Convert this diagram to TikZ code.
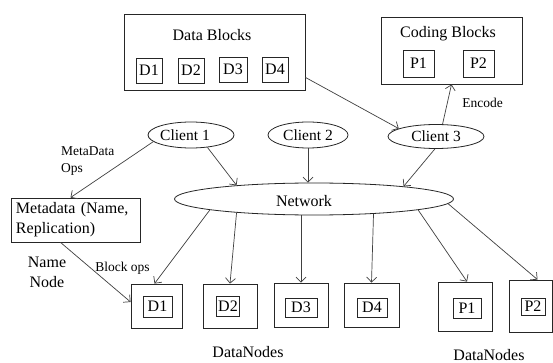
\documentclass[tikz,border=0pt]{standalone}
\usepackage{fontspec}
\setmainfont{Liberation Serif}
\usetikzlibrary{shapes.geometric,arrows.meta}
\begin{document}
\begin{tikzpicture}[x=1pt,y=-1pt,
  bx/.style={draw=black!85,line width=0.8pt,rectangle,inner sep=0pt,font=\fontsize{16}{19}\selectfont},
  el/.style={draw=black!85,line width=0.8pt,ellipse,inner sep=0pt,font=\fontsize{15.5}{19}\selectfont},
  lbl/.style={inner sep=0pt,font=\fontsize{16}{20}\selectfont,align=center},
  sml/.style={inner sep=0pt,font=\fontsize{13.5}{17}\selectfont},
  arr/.style={draw=black!75,line width=0.7pt,-{Straight Barb[length=5pt,width=10pt]}}
]
\useasboundingbox[fill=white] (0,0) rectangle (553,363);

% Data Blocks
\node[bx,minimum width=181pt,minimum height=76pt] (db) at (214.5,52) {};
\node[lbl] (dbt) at (212,35) {Data Blocks};
\node[bx,minimum width=26pt,minimum height=25pt] (bd1) at (149,70.5) {D1};
\node[bx,minimum width=26pt,minimum height=25pt] (bd2) at (191,70.5) {D2};
\node[bx,minimum width=28pt,minimum height=25pt] (bd3) at (233,69.5) {D3};
\node[bx,minimum width=26pt,minimum height=25pt] (bd4) at (275,69.5) {D4};

% Coding Blocks
\node[bx,minimum width=141pt,minimum height=67pt] (cb) at (451.5,50.5) {};
\node[lbl] (cbt) at (448,34) {Coding Blocks};
\node[bx,minimum width=31pt,minimum height=27pt] (bp1) at (418.5,63.5) {P1};
\node[bx,minimum width=31pt,minimum height=27pt] (bp2) at (478.5,63.5) {P2};

% Clients
\node[el,minimum width=86pt,minimum height=26pt] (c1) at (191,135) {};
\node[lbl,font=\fontsize{15.5}{19}\selectfont] (c1t) at (185,135) {Client 1};
\node[el,minimum width=80pt,minimum height=26pt] (c2) at (308,135) {Client 2};
\node[el,minimum width=96pt,minimum height=24pt] (c3) at (436,136.5) {Client 3};

% Network
\node[el,minimum width=279pt,minimum height=32pt] (net) at (314,199) {};
\node[lbl] (nett) at (304,201) {Network};

% Metadata
\node[bx,minimum width=129pt,minimum height=44pt,text width=119pt,inner xsep=5pt,align=left,font=\fontsize{16}{20}\selectfont] (meta) at (75.5,220) {Metadata (Name,\\Replication)};
\node[lbl] (nn) at (47,272) {Name\\Node};
\node[sml,anchor=west,align=left] (mdo) at (61,161.5) {MetaData\\Ops};
\node[sml] (bops) at (122.5,268) {Block ops};
\node[sml] (enc) at (482.5,103) {Encode};

% DataNodes
\node[bx,minimum width=51pt,minimum height=44pt] (dn1) at (156.5,306) {};
\node[bx,minimum width=29pt,minimum height=21pt] (id1) at (157.5,306.5) {D1};
\node[bx,minimum width=54pt,minimum height=44pt] (dn2) at (230,306) {};
\node[bx,minimum width=23pt,minimum height=20pt] (id2) at (228,306.5) {D2};
\node[bx,minimum width=54pt,minimum height=44pt] (dn3) at (301,305) {};
\node[bx,minimum width=32pt,minimum height=19pt] (id3) at (301,307.5) {D3};
\node[bx,minimum width=55pt,minimum height=44pt] (dn4) at (371.5,305) {};
\node[bx,minimum width=30pt,minimum height=19pt] (id4) at (372,307.5) {D4};
\node[bx,minimum width=54pt,minimum height=49pt] (p1) at (465,306.5) {};
\node[bx,minimum width=28pt,minimum height=20pt] (ip1) at (467,308) {P1};
\node[bx,minimum width=43pt,minimum height=52pt] (p2) at (530.5,306) {};
\node[bx,minimum width=24pt,minimum height=17pt] (ip2) at (533,306.5) {P2};
\node[lbl] (dnl1) at (248,352) {DataNodes};
\node[lbl] (dnl2) at (489,355) {DataNodes};

% Connectors
\draw[arr] ([yshift=13pt]db.south east) -- (c3.168);
\draw[arr] (c3.62) -- (cb.south);
\draw[arr] (c1.190) -- ([xshift=-5pt]meta.north);
\draw[arr] (c1.-37) -- (net.170);
\draw[arr] (c2.south) -- (c2.south |- net.north);
\draw[arr] (c3.265) -- (net.8);
\draw[arr] ([xshift=-15pt]meta.south) -- ([yshift=4pt]dn1.west);
\draw[arr] (net.186) -- ([xshift=-2pt]dn1.north);
\draw[arr] (net.190) -- (dn2.north);
\draw[arr] (net.south -| dn3.north) -- (dn3.north);
\draw[arr] (net.-14) -- (dn4.north);
\draw[arr] (net.-6) -- ([xshift=2pt]p1.north);
\draw[arr] (net.-2) -- ([xshift=7pt]p2.north);
\end{tikzpicture}
\end{document}
